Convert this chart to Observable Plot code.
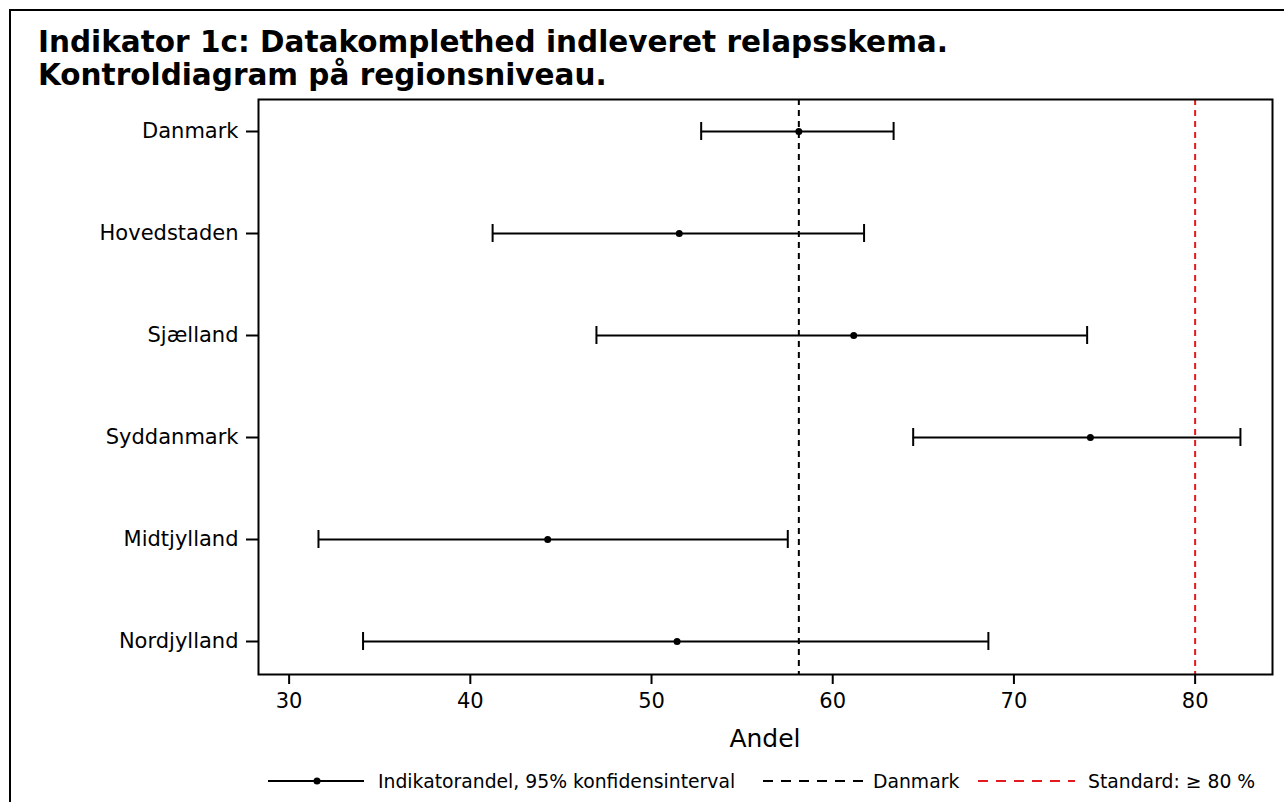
<!DOCTYPE html>
<html><head><meta charset="utf-8">
<script src="https://cdn.jsdelivr.net/npm/d3@7"></script>
<script src="https://cdn.jsdelivr.net/npm/@observablehq/plot@0.6"></script>
<style>
body{margin:0;background:#fff;font-family:"DejaVu Sans",sans-serif;}
#wrap{position:relative;width:1284px;height:802px;overflow:hidden;background:#fff;}
#border{position:absolute;left:9px;top:9px;width:1300px;height:820px;border-left:2px solid #000;border-top:2px solid #000;}
.title{position:absolute;left:38px;font-weight:bold;font-size:29.5px;line-height:28px;color:#000;white-space:nowrap;}
#chart{position:absolute;left:0;top:0;}
#xlabel{position:absolute;left:0;width:1530px;top:724px;text-align:center;font-size:25px;line-height:30px;color:#000;}
#legend{position:absolute;left:0;top:768px;}
</style>
</head><body>
<div id="wrap">
<div id="border"></div>
<div class="title" style="top:28px">Indikator 1c: Datakomplethed indleveret relapsskema.</div>
<div class="title" style="top:61px">Kontroldiagram på regionsniveau.</div>
<div id="chart"></div>
<div id="xlabel">Andel</div>
<svg id="legend" width="1284" height="26"></svg>
</div>
<script>
const regions = ["Danmark","Hovedstaden","Sjælland","Syddanmark","Midtjylland","Nordjylland"];
const andel = [58.13, 51.53, 61.16, 74.22, 44.27, 51.41];
const lower = [52.74, 41.23, 46.96, 64.44, 31.62, 34.08];
const upper = [63.36, 61.73, 74.04, 82.50, 57.52, 68.59];
const danmarkNiveau = 58.13;
const standard = 80;
const xTicks = [30, 40, 50, 60, 70, 80];
const legendLabels = ["Indikatorandel, 95% konfidensinterval", "Danmark", "Standard: \u2265 80 %"];

const data = regions.map((r, i) => ({region: r, andel: andel[i], lower: lower[i], upper: upper[i]}));

const chart = Plot.plot({
  width: 1284, height: 760,
  marginLeft: 258, marginRight: 12, marginTop: 99, marginBottom: 86,
  style: {fontFamily: "DejaVu Sans", fontSize: "21px", color: "#000", background: "transparent"},
  x: {domain: [28.31, 84.27]},
  y: {type: "band", domain: regions, paddingInner: 0.82, paddingOuter: 0.215},
  marks: [
    Plot.ruleX([danmarkNiveau], {stroke: "#000", strokeWidth: 2, strokeDasharray: "6,5"}),
    Plot.ruleX([standard], {stroke: "#e41a1c", strokeWidth: 2, strokeDasharray: "6,5"}),
    Plot.ruleY(data, {y: "region", x1: "lower", x2: "upper", stroke: "#000", strokeWidth: 2}),
    Plot.tickX(data, {x: "lower", y: "region", stroke: "#000", strokeWidth: 2}),
    Plot.tickX(data, {x: "upper", y: "region", stroke: "#000", strokeWidth: 2}),
    Plot.dot(data, {x: "andel", y: "region", r: 3.5, fill: "#000"}),
    Plot.frame({stroke: "#000", strokeWidth: 2}),
    Plot.axisX({ticks: xTicks, tickSize: 10, tickPadding: 9, strokeWidth: 2, label: null, fontSize: 21}),
    Plot.axisY({tickSize: 12, tickPadding: 8, strokeWidth: 2, label: null, fontSize: 21})
  ]
});
document.getElementById("chart").appendChild(chart);

// legend
const lg = d3.select("#legend");
const cy = 13;
lg.append("line").attr("x1", 268).attr("x2", 364).attr("y1", cy).attr("y2", cy).attr("stroke", "#000").attr("stroke-width", 2);
lg.append("circle").attr("cx", 317).attr("cy", cy).attr("r", 3.5).attr("fill", "#000");
lg.append("line").attr("x1", 763).attr("x2", 863).attr("y1", cy).attr("y2", cy).attr("stroke", "#000").attr("stroke-width", 2).attr("stroke-dasharray", "10,8");
lg.append("line").attr("x1", 978).attr("x2", 1075).attr("y1", cy).attr("y2", cy).attr("stroke", "#e41a1c").attr("stroke-width", 2).attr("stroke-dasharray", "10,8");
const tx = [378, 873, 1088];
legendLabels.forEach((t, i) => {
  lg.append("text").attr("x", tx[i]).attr("y", cy).attr("dy", "0.35em").attr("font-size", 18.8).attr("font-family", "DejaVu Sans").attr("fill", "#000").text(t);
});
</script>
</body></html>
